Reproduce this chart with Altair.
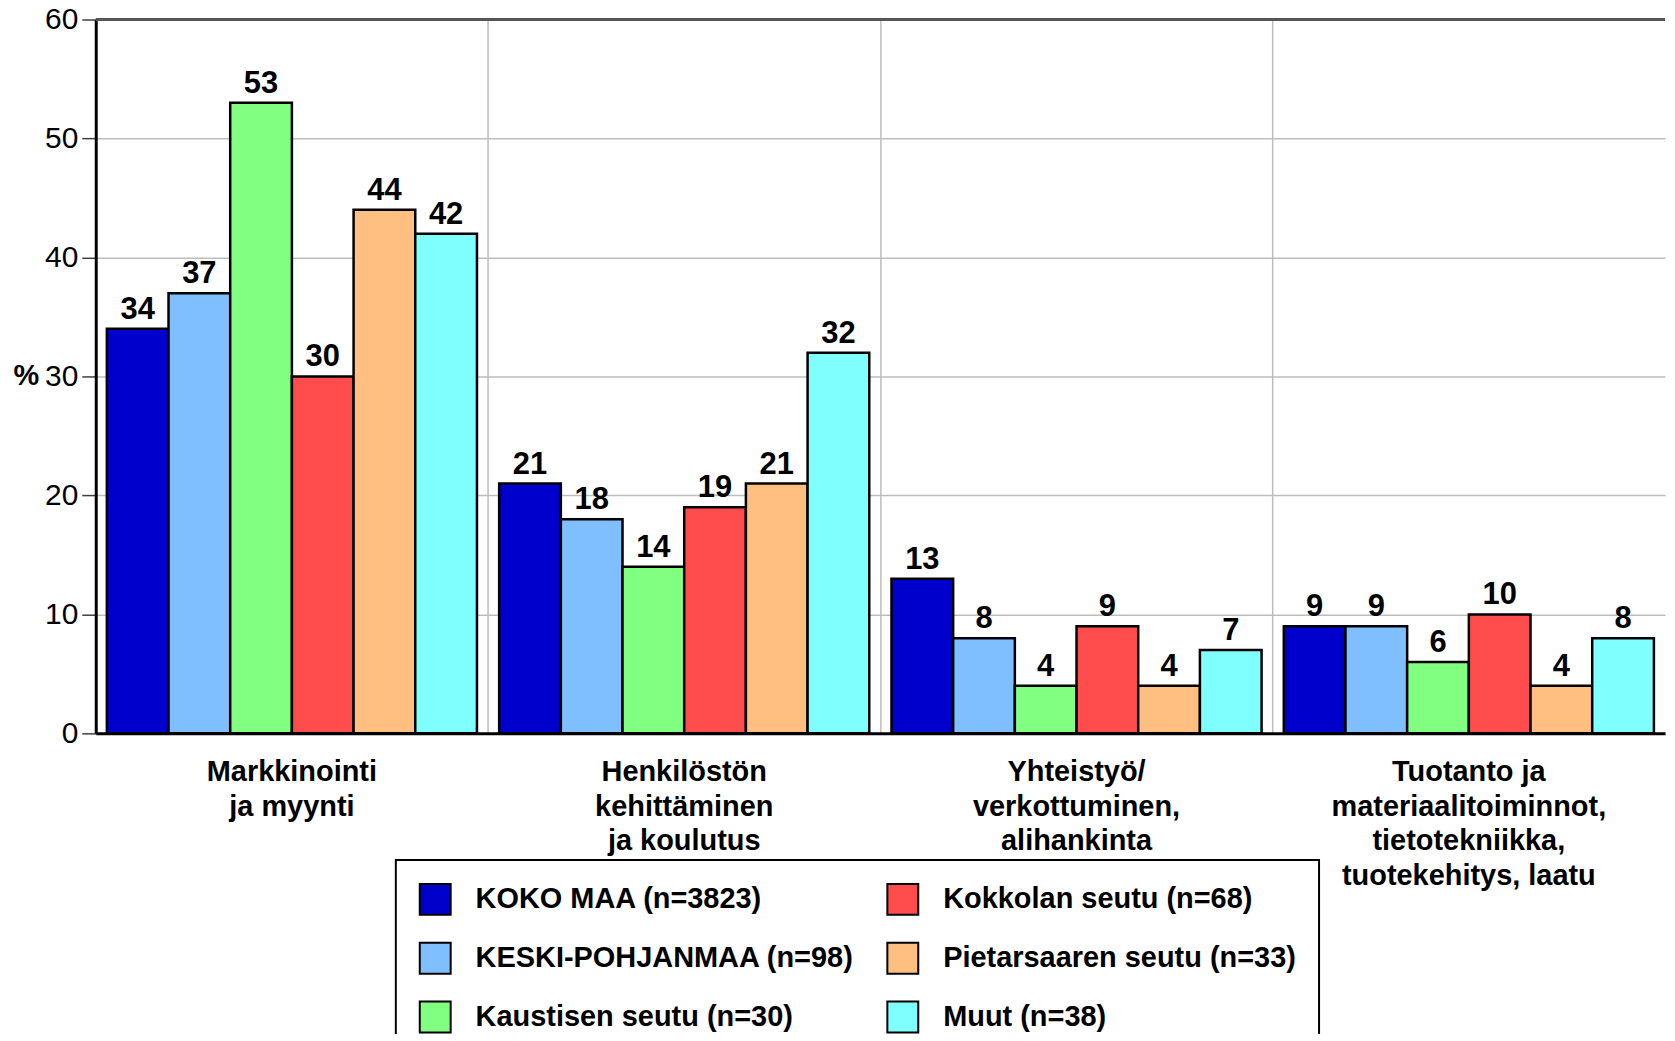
import altair as alt
import pandas as pd

categories = [
    "Markkinointi|ja myynti",
    "Henkilöstön|kehittäminen|ja koulutus",
    "Yhteistyö/|verkottuminen,|alihankinta",
    "Tuotanto ja|materiaalitoiminnot,|tietotekniikka,|tuotekehitys, laatu",
]
series = [
    "KOKO MAA (n=3823)",
    "KESKI-POHJANMAA (n=98)",
    "Kaustisen seutu (n=30)",
    "Kokkolan seutu (n=68)",
    "Pietarsaaren seutu (n=33)",
    "Muut (n=38)",
]
colors = ["#0000CC", "#80BFFF", "#80FF80", "#FF4D4D", "#FFBF80", "#80FFFF"]

koko_maa = [34, 21, 13, 9]
keski_pohjanmaa = [37, 18, 8, 9]
kaustinen = [53, 14, 4, 6]
kokkola = [30, 19, 9, 10]
pietarsaari = [44, 21, 4, 4]
muut = [42, 32, 7, 8]

y_ticks = [0, 10, 20, 30, 40, 50, 60]

all_values = [koko_maa, keski_pohjanmaa, kaustinen, kokkola, pietarsaari, muut]
rows = []
for s, vals in zip(series, all_values):
    for c, v in zip(categories, vals):
        rows.append({"cat": c, "series": s, "value": v})
df = pd.DataFrame(rows)

FONT = "Liberation Sans"
W = 1574
H = 716

x_enc = alt.X(
    "cat:N",
    sort=categories,
    scale=alt.Scale(paddingInner=0, paddingOuter=0),
    axis=alt.Axis(
        title=None,
        bandPosition=0,
        grid=True,
        gridColor="#BDBDBD",
        gridWidth=1.5,
        labelExpr="split(datum.label, '|')",
        labelFont=FONT,
        labelFontSize=29,
        labelFontWeight="bold",
        labelLineHeight=35,
        labelPadding=24,
        labelAngle=0,
        labelBaseline="top",
        labelColor="black",
        labelOverlap=False,
        labelLimit=600,
        tickSize=0,
        domainColor="black",
        domainWidth=3,
    ),
)
xoff_enc = alt.XOffset(
    "series:N", sort=series, scale=alt.Scale(paddingOuter=0.18, paddingInner=0)
)
y_enc = alt.Y(
    "value:Q",
    scale=alt.Scale(domain=[0, 60], nice=False),
    axis=alt.Axis(
        values=y_ticks,
        title="%",
        titleAngle=0,
        titleFont=FONT,
        titleFontWeight="bold",
        titleFontSize=29,
        titleColor="black",
        titleX=-83,
        titleY=357,
        titleAlign="left",
        titleBaseline="middle",
        labelFont=FONT,
        labelFontSize=30,
        labelColor="black",
        labelPadding=4,
        tickSize=14,
        tickColor="#404040",
        tickWidth=1.5,
        domainColor="black",
        domainWidth=3,
        grid=True,
        gridColor="#BDBDBD",
        gridWidth=1.5,
    ),
)

color_enc = alt.Color(
    "series:N",
    scale=alt.Scale(domain=series, range=colors),
    legend=alt.Legend(
        values=series,
        columns=2,
        orient="none",
        legendX=301,
        legendY=843,
        title=None,
        symbolType="square",
        symbolSize=961,
        symbolStrokeColor="black",
        symbolStrokeWidth=2,
        symbolOpacity=1,
        labelFont=FONT,
        labelFontSize=29,
        labelFontWeight="bold",
        labelColor="black",
        labelOffset=24,
        labelLimit=600,
        rowPadding=20,
        columnPadding=29,
        padding=23,
        strokeColor="black",
    ),
)

bars = alt.Chart(df).mark_bar(stroke="black", strokeWidth=2.5, opacity=1).encode(
    x=x_enc, xOffset=xoff_enc, y=y_enc, color=color_enc
)

labels = alt.Chart(df).mark_text(
    font=FONT, fontSize=31, fontWeight="bold", baseline="alphabetic", dy=-10, color="black"
).encode(
    x=alt.X("cat:N", sort=categories),
    xOffset=alt.XOffset("series:N", sort=series),
    y="value:Q",
    text="value:Q",
)

top_line = alt.Chart(pd.DataFrame({"top": [60]})).mark_rule(
    color="#555555", strokeWidth=3
).encode(y="top:Q")

chart = (
    alt.layer(bars, labels, top_line)
    .properties(
        width=W,
        height=H,
        autosize=alt.AutoSizeParams(type="none"),
        padding={"left": 88, "top": 10, "right": 2, "bottom": 300},
    )
    .configure_view(stroke=None)
    .configure_legend(strokeWidth=2)
)

chart.save("out.html", embed_options={"renderer": "svg", "actions": False})
